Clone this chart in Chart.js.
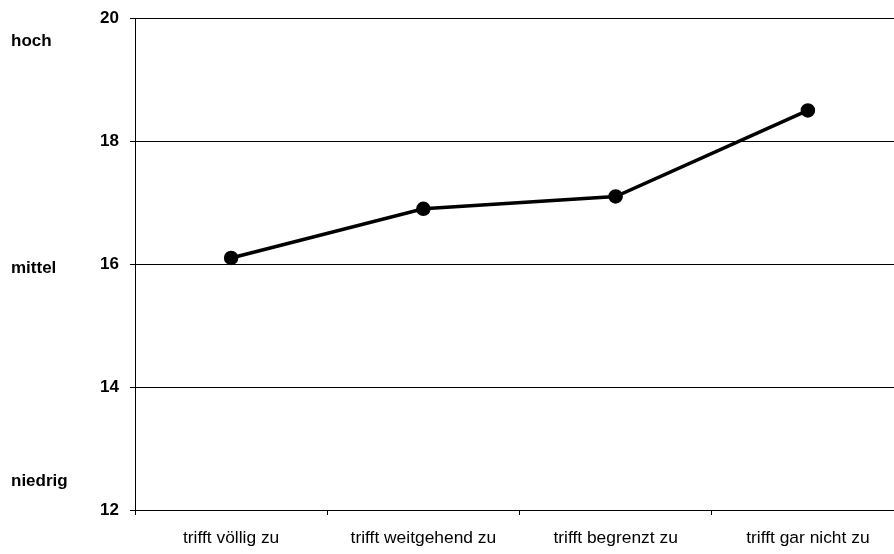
<!DOCTYPE html>
<html>
<head>
<meta charset="utf-8">
<script src="https://cdn.jsdelivr.net/npm/chart.js@4/dist/chart.umd.min.js"></script>
<style>
html,body{margin:0;padding:0;background:#fff;overflow:hidden;}
#wrap{width:894px;height:554px;overflow:hidden;}
#c{display:block;margin-top:-3px;}
</style>
</head>
<body>
<div id="wrap"><canvas id="c" width="904" height="557"></canvas></div>
<script>
const categories = ["trifft völlig zu", "trifft weitgehend zu", "trifft begrenzt zu", "trifft gar nicht zu"];
const values = [16.1, 16.9, 17.1, 18.5];
const yTicks = [12, 14, 16, 18, 20];
const sideLabels = ["hoch", "mittel", "niedrig"];
const sideLabelValues = [19.63, 15.93, 12.46];

const FONT = "'Liberation Sans', Arial, sans-serif";

const sidePlugin = {
  id: 'sideLabels',
  afterDraw(chart) {
    const ctx = chart.ctx;
    const y = chart.scales.y;
    ctx.save();
    ctx.fillStyle = '#000';
    ctx.font = 'bold 17px ' + FONT;
    ctx.textAlign = 'left';
    ctx.textBaseline = 'middle';
    sideLabels.forEach((t, i) => {
      ctx.fillText(t, 11, y.getPixelForValue(sideLabelValues[i]));
    });
    ctx.restore();
  }
};

new Chart(document.getElementById('c'), {
  type: 'line',
  data: {
    labels: categories,
    datasets: [{
      data: values,
      borderColor: '#000',
      backgroundColor: '#000',
      borderWidth: 3.5,
      pointRadius: 5.5,
      pointBackgroundColor: '#000',
      pointBorderColor: '#000',
      tension: 0
    }]
  },
  options: {
    responsive: false,
    animation: false,
    layout: { autoPadding: false, padding: { top: 15, left: 0, right: 0, bottom: 0 } },
    plugins: { legend: { display: false }, tooltip: { enabled: false } },
    scales: {
      x: {
        offset: true,
        grid: { display: true, offset: true, drawOnChartArea: false, drawTicks: true, tickLength: 5, color: '#000' },
        border: { display: true, color: '#000', width: 1 },
        ticks: { color: '#000', font: { family: FONT, size: 17.4 }, padding: 13, maxRotation: 0, autoSkip: false },
        afterFit(s) { s.height = 44; }
      },
      y: {
        min: 12, max: 20,
        afterBuildTicks(s) { s.ticks = yTicks.map(v => ({ value: v })); },
        grid: { color: '#000', lineWidth: 1, drawTicks: true, tickLength: 5 },
        border: { display: true, color: '#000', width: 1 },
        ticks: { color: '#000', font: { family: FONT, size: 17, weight: 'bold' }, padding: 11 },
        afterFit(s) { s.width = 135; }
      }
    }
  },
  plugins: [sidePlugin]
});
</script>
</body>
</html>
